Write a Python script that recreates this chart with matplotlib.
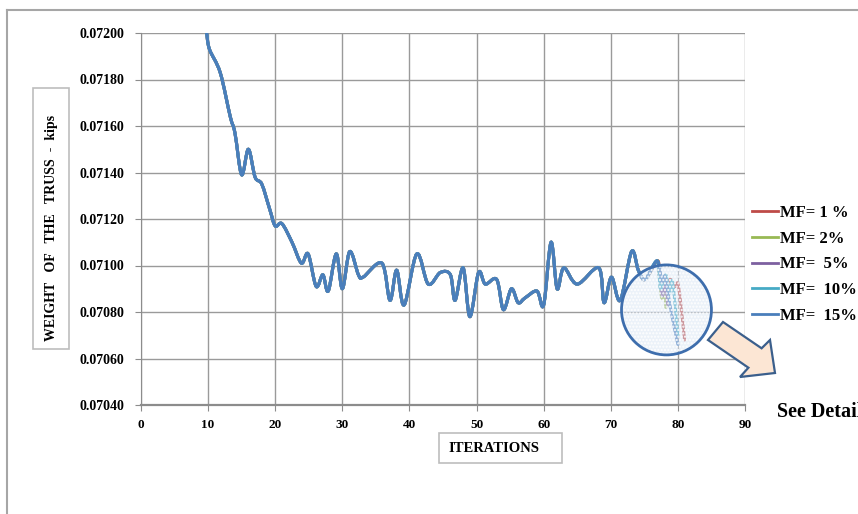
import numpy as np
import matplotlib
matplotlib.use("Agg")
import matplotlib.pyplot as plt
from matplotlib.patches import Ellipse, Polygon, Rectangle, PathPatch
from matplotlib.path import Path
from matplotlib.lines import Line2D

# shared history of the optimisation (all MF runs coincide up to ~iteration 77)
hist_it = [9.79, 10.2, 11.8, 13.3, 14.0, 15.0, 16.0, 17.0, 18.0, 19.2, 20.0, 21.0,
           22.5, 23.9, 24.9, 26.1, 27.1, 27.9, 29.1, 30.0, 31.1, 32.4, 33.1, 35.9,
           37.1, 38.1, 39.2, 41.1, 42.8, 44.6, 46.1, 46.8, 48.0, 49.0, 50.3, 51.3,
           53.0, 54.0, 55.2, 56.2, 57.2, 59.0, 60.0, 61.1, 62.0, 63.0, 65.0, 68.2,
           69.0, 70.1, 71.4, 73.1, 74.1, 75.1, 76.9]
hist_w = [0.07200, 0.07193, 0.07183, 0.07164, 0.07157, 0.07139, 0.07150, 0.07138,
          0.07135, 0.07124, 0.07117, 0.07118, 0.07110, 0.07101, 0.07105, 0.07091,
          0.07096, 0.07089, 0.07105, 0.07090, 0.07106, 0.07096, 0.07095, 0.07101,
          0.07085, 0.07098, 0.07083, 0.07105, 0.07092, 0.07097, 0.07096, 0.07085,
          0.07099, 0.07078, 0.07097, 0.07092, 0.07094, 0.07081, 0.07090, 0.07084,
          0.07086, 0.07089, 0.07083, 0.07110, 0.07090, 0.07099, 0.07092, 0.07099,
          0.07084, 0.07095, 0.07085, 0.07106, 0.07098, 0.07094, 0.07102]

# final iterations of each run
tail_mf1_it = [77.3, 78.0, 78.8, 79.6, 80.1, 81.0]
tail_mf1_w = [0.07097, 0.07088, 0.07094, 0.07091, 0.07091, 0.07068]
tail_mf2_it = [77.2, 77.6, 78.0, 78.2]
tail_mf2_w = [0.07096, 0.07086, 0.07090, 0.07082]
tail_mf5_it = [77.3, 77.7, 78.1, 78.5]
tail_mf5_w = [0.07094, 0.07087, 0.07092, 0.07083]
tail_mf10_it = [77.4, 78.2, 78.7, 79.2, 80.0]
tail_mf10_w = [0.07090, 0.07096, 0.07088, 0.07093, 0.07070]
tail_mf15_it = [77.6, 78.1, 79.0, 80.0]
tail_mf15_w = [0.07093, 0.07095, 0.07080, 0.07066]

labels = ["MF= 1 %", "MF= 2%", "MF=  5%", "MF=  10%", "MF=  15%"]
colors = ["#BE4B48", "#98B954", "#7D60A0", "#46AAC5", "#4A7EBB"]
tails = [(tail_mf1_it, tail_mf1_w), (tail_mf2_it, tail_mf2_w), (tail_mf5_it, tail_mf5_w),
         (tail_mf10_it, tail_mf10_w), (tail_mf15_it, tail_mf15_w)]


def smooth_path(x, y):
    # Excel-like "smoothed line": cubic Bezier through every data point
    p = np.column_stack([x, y])
    n = len(p)
    verts = [p[0]]
    codes = [Path.MOVETO]
    for i in range(n - 1):
        p0 = p[i - 1] if i > 0 else p[i]
        p3 = p[i + 2] if i + 2 < n else p[i + 1]
        c1 = p[i] + (p[i + 1] - p0) / 6
        c2 = p[i + 1] - (p3 - p[i]) / 6
        verts += [c1, c2, p[i + 1]]
        codes += [Path.CURVE4] * 3
    return Path(verts, codes)


plt.rcParams['font.family'] = ['Liberation Serif', 'DejaVu Serif']

W, H = 858, 514
fig = plt.figure(figsize=(W / 100, H / 100), dpi=100)
ax = fig.add_axes([141 / W, 1 - 405 / H, (745 - 141) / W, (405 - 33) / H])

handles = []
for lab, col, (ti, tw) in zip(labels, colors, tails):
    ax.add_patch(PathPatch(smooth_path(hist_it + ti, hist_w + tw), facecolor='none',
                           edgecolor=col, lw=2.2, joinstyle='round', capstyle='round',
                           zorder=3))
    handles.append(Line2D([], [], color=col, lw=2.0, label=lab))

ax.set_xlim(0, 90)
ax.set_ylim(0.0704, 0.0720)
ax.set_xticks(np.arange(0, 91, 10))
ax.set_yticks(np.arange(0.0704, 0.07201, 0.0002))
ax.set_yticklabels(["%.5f" % v for v in np.arange(0.0704, 0.07201, 0.0002)])
ax.grid(True, color="#9A9A9A", lw=1.0)
ax.set_axisbelow(True)
for s in ["top", "right"]:
    ax.spines[s].set_visible(False)
ax.spines["left"].set_color("#8C8C8C")
ax.spines["bottom"].set_color("#8C8C8C")
ax.spines["bottom"].set_linewidth(1.6)
ax.tick_params(axis='both', colors="#8C8C8C", labelcolor="black", length=4)
ax.tick_params(axis='y', pad=8)
ax.tick_params(axis='x', pad=6)
for t in ax.get_yticklabels():
    t.set_fontsize(10)
    t.set_fontweight('bold')
for t in ax.get_xticklabels():
    t.set_fontsize(9.5)
    t.set_fontweight('bold')

# magnifier circle over the end of the runs
ax.add_patch(Ellipse((78.3, 0.070809), 13.4, 0.000387, facecolor=(0.86, 0.90, 0.96, 0.5),
                     edgecolor="white", lw=0, hatch='.....', zorder=4))
ax.add_patch(Ellipse((78.3, 0.070809), 13.4, 0.000387, facecolor='none',
                     edgecolor="#3E6EAD", lw=2.0, zorder=5))

ax.legend(handles=handles, loc='upper left', bbox_to_anchor=(752 / W, 1 - 205 / H),
          bbox_transform=fig.transFigure, frameon=False, handlelength=1.55,
          handletextpad=0.1, labelspacing=0.58, borderaxespad=0, borderpad=0,
          prop={'family': 'Liberation Serif', 'weight': 'bold', 'size': 12})

# axis titles in boxes
fig.add_artist(Rectangle((33 / W, 1 - 349 / H), 36 / W, 261 / H, transform=fig.transFigure,
                         facecolor='white', edgecolor="#BDBDBD", lw=1.2))
fig.text(51.5 / W, 1 - 228 / H, "WEIGHT   OF   THE   TRUSS  -  kips", rotation=90,
         ha='center', va='center', fontsize=10, fontweight='bold')
fig.add_artist(Rectangle((439 / W, 1 - 463 / H), 123 / W, 30 / H, transform=fig.transFigure,
                         facecolor='white', edgecolor="#BDBDBD", lw=1.2))
fig.text(448 / W, 1 - 448 / H, "ITERATIONS", ha='left', va='center',
         fontsize=10.5, fontweight='bold')

# outer chart frame
fig.add_artist(Line2D([7 / W, 7 / W], [0, 1 - 10 / H], transform=fig.transFigure,
                      color="#A6A6A6", lw=1.5))
fig.add_artist(Line2D([7 / W, 1], [1 - 10 / H, 1 - 10 / H], transform=fig.transFigure,
                      color="#A6A6A6", lw=1.5))

# block arrow towards the detail
arrow_px = [(723, 322), (761.6, 348.3), (770, 340), (775, 373), (740, 377),
            (748.4, 367.7), (708, 340)]
fig.add_artist(Polygon([(x / W, 1 - y / H) for x, y in arrow_px], closed=True,
                       transform=fig.transFigure, facecolor="#FCE6D4",
                       edgecolor="#3B5F8C", lw=1.6))
fig.text(777 / W, 1 - 412 / H, "See Details", ha='left', va='center',
         fontsize=14.5, fontweight='bold')

fig.savefig("out.png", dpi=100)
